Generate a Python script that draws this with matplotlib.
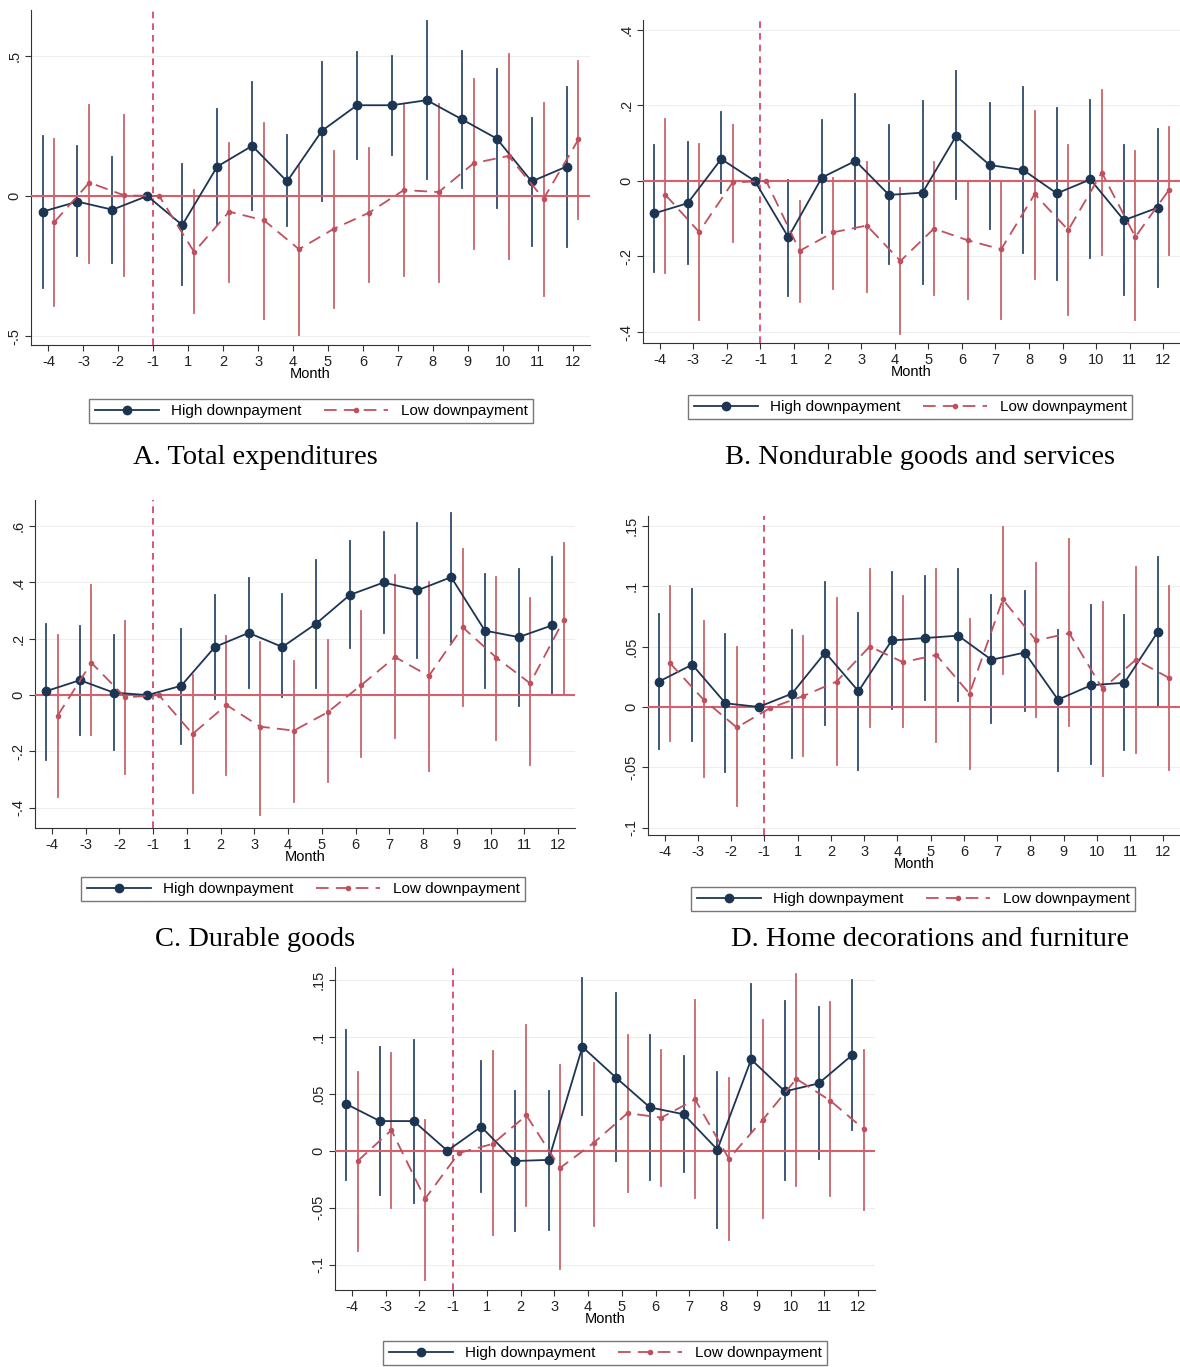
import matplotlib
matplotlib.use("Agg")
import matplotlib.pyplot as plt
from matplotlib.lines import Line2D
import numpy as np

W, H = 1180, 1367

months = ["-4", "-3", "-2", "-1"] + [str(m) for m in range(1, 13)]
nan = np.nan

# Panel A: total expenditures
a_high = [-0.056, -0.02, -0.049, 0, -0.104, 0.105, 0.179, 0.052, 0.233, 0.324, 0.324, 0.342, 0.274, 0.205, 0.052, 0.105]
a_high_hi = [0.214, 0.178, 0.139, nan, 0.113, 0.309, 0.408, 0.217, 0.478, 0.514, 0.50, 0.625, 0.518, 0.452, 0.28, 0.39]
a_high_lo = [-0.327, -0.214, -0.238, nan, -0.319, -0.101, -0.05, -0.107, -0.018, 0.133, 0.146, 0.06, 0.03, -0.042, -0.178, -0.181]
a_low = [-0.093, 0.048, 0.002, 0, -0.2, -0.056, -0.087, -0.19, -0.117, -0.06, 0.021, 0.014, 0.117, 0.143, -0.01, 0.202]
a_low_hi = [0.202, 0.324, 0.29, nan, 0.02, 0.188, 0.259, 0.107, 0.161, 0.173, 0.324, 0.327, 0.417, 0.506, 0.331, 0.482]
a_low_lo = [-0.393, -0.238, -0.286, nan, -0.417, -0.307, -0.438, -0.497, -0.399, -0.307, -0.286, -0.307, -0.188, -0.226, -0.357, -0.083]

# Panel B: nondurable goods and services
b_high = [-0.086, -0.059, 0.058, 0, -0.149, 0.009, 0.053, -0.037, -0.031, 0.119, 0.042, 0.029, -0.033, 0.004, -0.104, -0.071]
b_high_hi = [0.094, 0.102, 0.183, nan, 0.003, 0.162, 0.231, 0.147, 0.211, 0.29, 0.205, 0.249, 0.193, 0.215, 0.094, 0.137]
b_high_lo = [-0.241, -0.22, -0.033, nan, -0.304, -0.139, -0.128, -0.219, -0.273, -0.049, -0.127, -0.192, -0.261, -0.205, -0.303, -0.282]
b_low = [-0.037, -0.135, -0.004, 0, -0.185, -0.136, -0.118, -0.212, -0.126, -0.157, -0.181, -0.035, -0.13, 0.022, -0.148, -0.024]
b_low_hi = [0.164, 0.098, 0.149, nan, -0.053, 0.007, 0.051, -0.019, 0.05, -0.002, -0.002, 0.184, 0.096, 0.24, 0.078, 0.144]
b_low_lo = [-0.243, -0.369, -0.161, nan, -0.32, -0.287, -0.294, -0.404, -0.303, -0.312, -0.365, -0.26, -0.356, -0.196, -0.369, -0.196]

# Panel C: durable goods
c_high = [0.014, 0.053, 0.009, 0, 0.033, 0.171, 0.221, 0.171, 0.254, 0.356, 0.40, 0.372, 0.419, 0.229, 0.206, 0.248]
c_high_hi = [0.254, 0.245, 0.212, nan, 0.235, 0.356, 0.415, 0.359, 0.48, 0.547, 0.58, 0.613, 0.648, 0.43, 0.448, 0.489]
c_high_lo = [-0.232, -0.143, -0.196, nan, -0.173, -0.014, 0.027, -0.008, 0.027, 0.166, 0.221, 0.133, 0.188, 0.027, -0.04, 0.009]
c_low = [-0.073, 0.115, -0.008, 0, -0.138, -0.035, -0.112, -0.126, -0.061, 0.036, 0.135, 0.068, 0.241, 0.133, 0.042, 0.268]
c_low_hi = [0.215, 0.392, 0.262, nan, 0.07, 0.209, 0.188, 0.121, 0.195, 0.298, 0.427, 0.403, 0.518, 0.421, 0.345, 0.539]
c_low_lo = [-0.361, -0.143, -0.279, nan, -0.349, -0.282, -0.426, -0.379, -0.308, -0.22, -0.153, -0.27, -0.038, -0.161, -0.249, 0.0]

# Panel D: home decorations and furniture
d_high = [0.021, 0.035, 0.003, 0, 0.011, 0.045, 0.013, 0.055, 0.057, 0.059, 0.039, 0.045, 0.006, 0.018, 0.02, 0.062]
d_high_hi = [0.077, 0.098, 0.06, nan, 0.064, 0.103, 0.078, 0.112, 0.108, 0.114, 0.093, 0.096, 0.064, 0.084, 0.076, 0.124]
d_high_lo = [-0.035, -0.028, -0.054, nan, -0.042, -0.015, -0.052, -0.002, 0.006, 0.005, -0.013, -0.003, -0.053, -0.047, -0.036, 0.0]
d_low = [0.036, 0.006, -0.017, -0.001, 0.009, 0.021, 0.05, 0.037, 0.043, 0.011, 0.089, 0.055, 0.061, 0.015, 0.039, 0.024]
d_low_hi = [0.10, 0.071, 0.05, nan, 0.059, 0.09, 0.114, 0.092, 0.114, 0.073, 0.149, 0.119, 0.139, 0.087, 0.116, 0.10]
d_low_lo = [-0.028, -0.058, -0.082, nan, -0.041, -0.048, -0.017, -0.017, -0.029, -0.051, 0.027, -0.008, -0.016, -0.057, -0.038, -0.052]

# Panel E (no caption)
e_high = [0.041, 0.026, 0.026, 0, 0.021, -0.009, -0.008, 0.091, 0.064, 0.038, 0.032, 0.001, 0.08, 0.052, 0.059, 0.084]
e_high_hi = [0.106, 0.091, 0.097, nan, 0.079, 0.052, 0.052, 0.151, 0.138, 0.101, 0.083, 0.069, 0.146, 0.131, 0.126, 0.15]
e_high_lo = [-0.026, -0.039, -0.046, nan, -0.036, -0.07, -0.069, 0.031, -0.009, -0.026, -0.019, -0.068, 0.016, -0.026, -0.007, 0.018]
e_low = [-0.009, 0.018, -0.042, -0.002, 0.006, 0.031, -0.015, 0.007, 0.033, 0.029, 0.045, -0.007, 0.027, 0.063, 0.044, 0.019]
e_low_hi = [0.069, 0.086, 0.027, nan, 0.087, 0.11, 0.075, 0.077, 0.101, 0.088, 0.132, 0.064, 0.115, 0.155, 0.13, 0.088]
e_low_lo = [-0.088, -0.05, -0.113, nan, -0.074, -0.048, -0.104, -0.066, -0.036, -0.031, -0.041, -0.078, -0.059, -0.031, -0.04, -0.052]

captions = ["A. Total expenditures", "B. Nondurable goods and services",
            "C. Durable goods", "D. Home decorations and furniture", None]

NAVY = "#1c3553"
NAVY_CI = "#2e4b6b"
RED = "#c0505e"
RED_CI = "#c8646c"
ZERO = "#d8606c"
VLINE = "#d43a5c"

plt.rcParams['font.family'] = ['Liberation Sans', 'DejaVu Sans']

fig = plt.figure(figsize=(W / 100, H / 100), dpi=100)


def px_axes(l, t, r, b):
    return fig.add_axes([l / W, 1 - b / H, (r - l) / W, (b - t) / H])


def stata_fmt(v):
    s = ("%g" % v)
    if s.startswith("0."):
        s = s[1:]
    elif s.startswith("-0."):
        s = "-" + s[2:]
    return s


def panel(ax, high, hhi, hlo, low, lhi, llo, yticks, ylim):
    pos = np.arange(len(months))
    off = 0.17
    for i in pos:
        if not np.isnan(hhi[i]):
            ax.plot([i - off, i - off], [hlo[i], hhi[i]], color=NAVY_CI, lw=1.3, zorder=2)
        if not np.isnan(lhi[i]):
            ax.plot([i + off, i + off], [llo[i], lhi[i]], color=RED_CI, lw=1.3, zorder=2)
    ax.axhline(0, color=ZERO, lw=1.5, zorder=3)
    ax.axvline(3, color=VLINE, lw=1.2, ls=(0, (4, 3)), zorder=3)
    ax.plot(pos - off, high, color=NAVY, lw=1.3, marker='o', ms=6, zorder=4)
    ax.plot(pos + off, low, color=RED, lw=1.3, ls=(0, (7, 4)), marker='o', ms=3, zorder=4)
    ax.set_xlim(-0.5, 15.5)
    ax.set_ylim(*ylim)
    ax.set_xticks(pos)
    ax.set_xticklabels(months, fontsize=10.5)
    ax.set_yticks(yticks)
    ax.set_yticklabels([stata_fmt(v) for v in yticks], rotation=90, va='center', fontsize=10.5)
    for v in yticks:
        ax.axhline(v, color='#eeeeee', lw=0.8, zorder=0)
    ax.set_xlabel("Month", fontsize=10.5, labelpad=-1)
    for s in ['top', 'right']:
        ax.spines[s].set_visible(False)
    for s in ['left', 'bottom']:
        ax.spines[s].set_color('#333333')
    ax.tick_params(direction='out', length=4, color='#333333', labelcolor='#222222', pad=3)


def add_legend(ax, cx, cy):
    handles = [Line2D([], [], color=NAVY, lw=1.3, marker='o', ms=6),
               Line2D([], [], color=RED, lw=1.3, ls=(0, (7, 4)), marker='o', ms=3)]
    leg = ax.legend(handles, ["High downpayment", "Low downpayment"], ncol=2, loc='center',
                    bbox_to_anchor=(cx / W, 1 - cy / H), bbox_transform=fig.transFigure,
                    frameon=True, fancybox=False, fontsize=11, handlelength=4.2,
                    columnspacing=1.5, borderpad=0.35, handletextpad=0.8)
    leg.get_frame().set_edgecolor('#555555')
    leg.get_frame().set_linewidth(1.0)


# panel boxes in pixels (left, top, right, bottom), legend centers, caption centers
specs = [
    ((31, 10, 590, 345), (311, 411), (255, 458),
     (a_high, a_high_hi, a_high_lo, a_low, a_low_hi, a_low_lo), [-0.5, 0, 0.5], (-0.532, 0.664)),
    ((643, 20, 1180, 343), (910, 407), (920, 458),
     (b_high, b_high_hi, b_high_lo, b_low, b_low_hi, b_low_lo), [-0.4, -0.2, 0, 0.2, 0.4], (-0.429, 0.426)),
    ((35, 500, 575, 828), (303, 889), (255, 940),
     (c_high, c_high_hi, c_high_lo, c_low, c_low_hi, c_low_lo), [-0.4, -0.2, 0, 0.2, 0.4, 0.6], (-0.472, 0.693)),
    ((648, 516, 1180, 835), (913, 899), (930, 940),
     (d_high, d_high_hi, d_high_lo, d_low, d_low_hi, d_low_lo), [-0.1, -0.05, 0, 0.05, 0.1, 0.15], (-0.106, 0.158)),
    ((335, 967, 875, 1290), (605, 1353), None,
     (e_high, e_high_hi, e_high_lo, e_low, e_low_hi, e_low_lo), [-0.1, -0.05, 0, 0.05, 0.1, 0.15], (-0.122, 0.161)),
]

for k, (box, legc, capc, data, yt, yl) in enumerate(specs):
    ax = px_axes(*box)
    panel(ax, *data, yt, yl)
    add_legend(ax, *legc)
    if capc is not None:
        fig.text(capc[0] / W, 1 - capc[1] / H, captions[k], ha='center', va='center',
                 fontsize=20.5, family=['Liberation Serif', 'DejaVu Serif'])

fig.savefig("out.png", dpi=100)
